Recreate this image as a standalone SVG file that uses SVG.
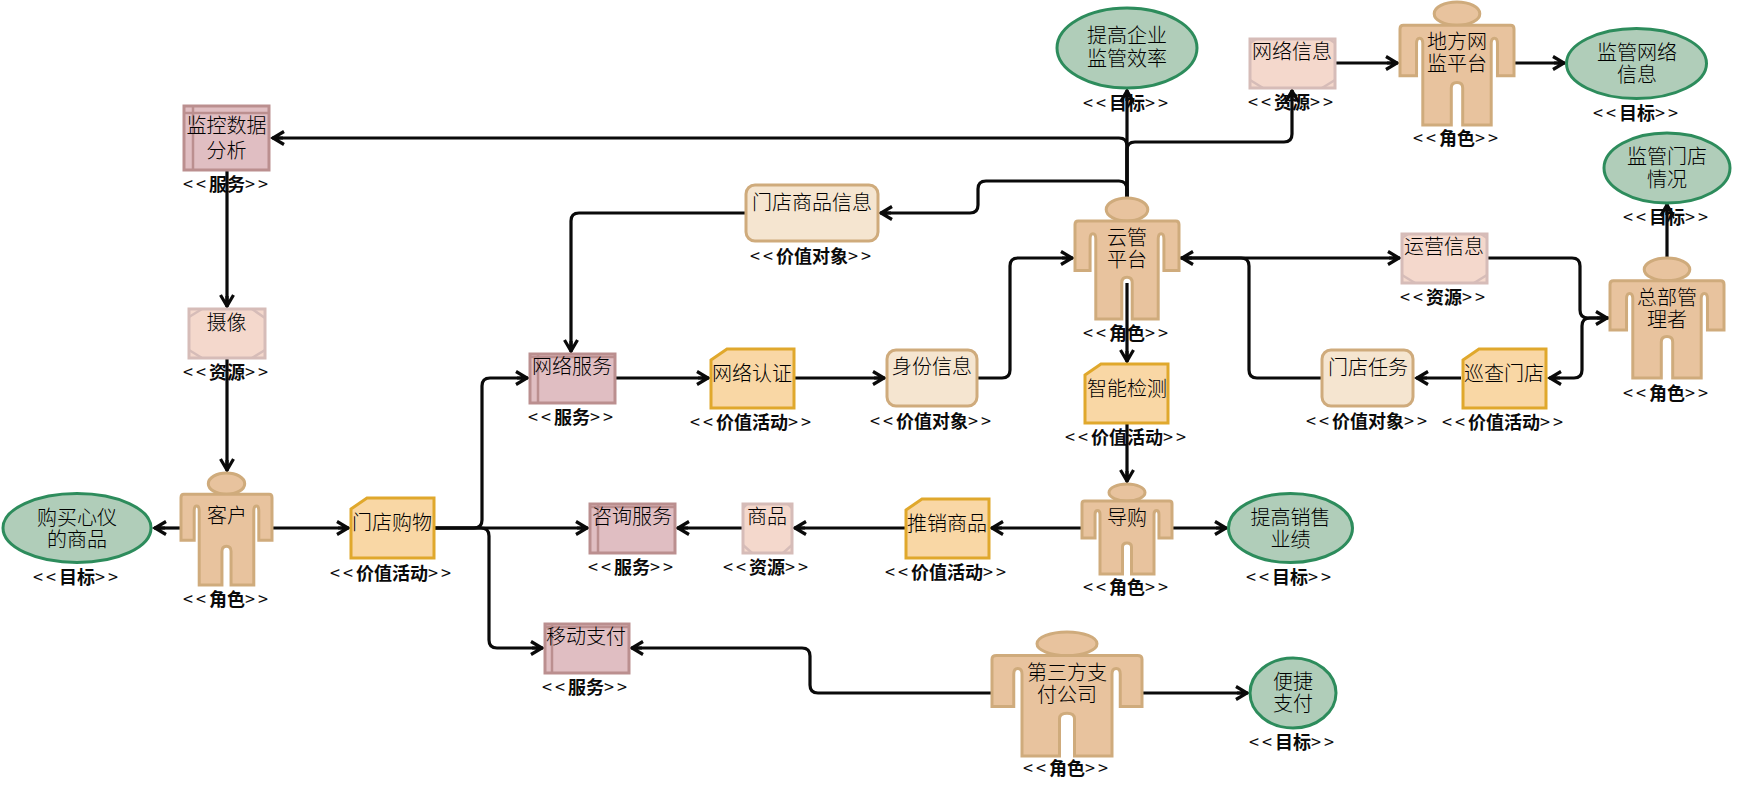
<svg xmlns="http://www.w3.org/2000/svg" width="1746" height="795" viewBox="0 0 1746 795">
<style>
text{font-family:"Noto Sans CJK SC","Noto Sans",sans-serif;text-anchor:middle;dominant-baseline:central;transform:translateY(-1px)}
.t{font-size:20px;fill:#000;font-weight:300}
.l{font-size:18px;font-weight:700;fill:#0a0a0a}
.l tspan{font-weight:400;letter-spacing:3px}
.c path{fill:none;stroke:#0a0a0a;stroke-width:3.200;stroke-linejoin:round;marker-end:url(#a)}
.g{fill:#b0cdb9;stroke:#2d8c5c;stroke-width:3}
.v{fill:#f5e5d0;stroke:#cfab7c;stroke-width:3}
.f{fill:#f9d7a5;stroke:#e0a82c;stroke-width:3}
.s{fill:#e0bec2;stroke:#bb8f8f;stroke-width:3}
.sl{fill:none;stroke:#bb8f8f;stroke-width:2.500}
.r{fill:#f4d8cc;stroke:#d6bcb8;stroke-width:3}
.rl{fill:none;stroke:#d6bcb8;stroke-width:2.500}
.p{fill:#e8c39e;stroke:#cfab7c;stroke-width:3}
#role *{vector-effect:non-scaling-stroke}
</style>
<defs>
<marker id="a" markerUnits="userSpaceOnUse" markerWidth="18" markerHeight="18" refX="15" refY="9" orient="auto" overflow="visible"><path d="M3,2.500L14,9L3,15.500M14,9H4" fill="none" stroke="#0a0a0a" stroke-width="3.200"/></marker>
<g id="role"><ellipse cx="50" cy="9.500" rx="20" ry="9.500"/><path d="M0,60V22Q0,19 3,19H97Q100,19 100,22V60H85.500V34Q85.500,29.500 82.800,29.500Q80,29.500 80,34V100H55V70Q55,65.500 50,65.500Q45,65.500 45,70V100H20V34Q20,29.500 17.200,29.500Q14.500,29.500 14.500,34V60Z"/></g>
</defs>
<rect width="1746" height="795" fill="#fff"/>
<g class="c" id="connectors">
<path d="M1127,197V90"/>
<path d="M1127,197V150Q1127,142 1135,142H1284Q1292,142 1292,134V90"/>
<path d="M1127,197V146Q1127,138 1119,138H272"/>
<path d="M1127,197V190Q1127,181 1119,181H986Q978,181 978,189V205Q978,213 970,213H880"/>
<path d="M746,213H579Q571,213 571,221V352"/>
<path d="M227,171V307"/>
<path d="M227,358V471"/>
<path d="M180,528H154"/>
<path d="M273,528H349"/>
<path d="M434,528H474Q482,528 482,520V386Q482,378 490,378H528"/>
<path d="M434,528H588"/>
<path d="M434,528H481Q489,528 489,536V640Q489,648 497,648H543"/>
<path d="M615,378H709"/>
<path d="M794,378H885"/>
<path d="M978,378H1002Q1010,378 1010,370V266Q1010,258 1018,258H1073"/>
<path d="M1180,258H1400"/>
<path d="M1322,378H1257Q1249,378 1249,370V266Q1249,258 1241,258H1181"/>
<path d="M1487,258H1572Q1580,258 1580,266V310Q1580,318 1588,318H1608"/>
<path d="M1609,318H1590Q1582,318 1582,326V370Q1582,378 1574,378H1549"/>
<path d="M1461,378H1416"/>
<path d="M1667,257V204"/>
<path d="M1127,283V362"/>
<path d="M1127,424V482"/>
<path d="M1081,528H991"/>
<path d="M905,528H794"/>
<path d="M742,528H677"/>
<path d="M1173,528H1227"/>
<path d="M991,693H818Q810,693 810,685V656Q810,648 802,648H631"/>
<path d="M1143,693H1248"/>
<path d="M1335,63H1398"/>
<path d="M1515,63H1565"/>
</g>
<g id="goal1"><ellipse class="g" cx="77" cy="528" rx="74" ry="34.500"/><text class="t" x="77" y="517">购买心仪</text><text class="t" x="77" y="539">的商品</text><text class="l" x="77" y="577"><tspan>&lt;&lt;</tspan>目标<tspan>&gt;&gt;</tspan></text></g>
<g id="role-customer"><use class="p" href="#role" transform="translate(181,473) scale(.91,1.12)"/><text class="t" x="227" y="515">客户</text><text class="l" x="227" y="599"><tspan>&lt;&lt;</tspan>角色<tspan>&gt;&gt;</tspan></text></g>
<g id="act-store"><path class="f" d="M351,509L367,498H434V558H351Z"/><text class="t" x="392" y="522">门店购物</text><text class="l" x="392" y="573"><tspan>&lt;&lt;</tspan>价值活动<tspan>&gt;&gt;</tspan></text></g>
<g id="svc-monitor"><rect class="s" x="184" y="106" width="85" height="64"/><path class="sl" d="M193,106V170M184,113H269"/><text class="t" x="226.500" y="125">监控数据</text><text class="t" x="226.500" y="150">分析</text><text class="l" x="227" y="184"><tspan>&lt;&lt;</tspan>服务<tspan>&gt;&gt;</tspan></text></g>
<g id="res-camera"><rect class="r" x="189" y="309" width="76" height="49"/><path class="rl" d="M189,317L202,309M252,309L265,318M189,350L202,358M252,358L265,350"/><text class="t" x="226.500" y="322">摄像</text><text class="l" x="227" y="372"><tspan>&lt;&lt;</tspan>资源<tspan>&gt;&gt;</tspan></text></g>
<g id="goal-eff"><ellipse class="g" cx="1127" cy="48" rx="70" ry="40"/><text class="t" x="1127" y="35">提高企业</text><text class="t" x="1127" y="58">监管效率</text><text class="l" x="1127" y="103"><tspan>&lt;&lt;</tspan>目标<tspan>&gt;&gt;</tspan></text></g>
<g id="res-net"><rect class="r" x="1250" y="39" width="85" height="49"/><path class="rl" d="M1250,80L1263,88M1322,88L1335,80M1250,43L1256,39M1329,39L1335,43"/><text class="t" x="1292" y="51">网络信息</text><text class="l" x="1292" y="102"><tspan>&lt;&lt;</tspan>资源<tspan>&gt;&gt;</tspan></text></g>
<g id="role-local"><use class="p" href="#role" transform="translate(1400,2) scale(1.14,1.23)"/><text class="t" x="1457" y="41">地方网</text><text class="t" x="1457" y="63">监平台</text><text class="l" x="1457" y="138"><tspan>&lt;&lt;</tspan>角色<tspan>&gt;&gt;</tspan></text></g>
<g id="goal-net"><ellipse class="g" cx="1636.500" cy="63.500" rx="70" ry="35"/><text class="t" x="1637" y="52">监管网络</text><text class="t" x="1637" y="74">信息</text><text class="l" x="1637" y="113"><tspan>&lt;&lt;</tspan>目标<tspan>&gt;&gt;</tspan></text></g>
<g id="goal-store"><ellipse class="g" cx="1667" cy="168" rx="63" ry="35"/><text class="t" x="1667" y="156">监管门店</text><text class="t" x="1667" y="179">情况</text><text class="l" x="1667" y="217"><tspan>&lt;&lt;</tspan>目标<tspan>&gt;&gt;</tspan></text></g>
<g id="val-goods"><rect class="v" x="746" y="185" width="132" height="56" rx="9"/><text class="t" x="812" y="202">门店商品信息</text><text class="l" x="812" y="256"><tspan>&lt;&lt;</tspan>价值对象<tspan>&gt;&gt;</tspan></text></g>
<g id="role-cloud"><use class="p" href="#role" transform="translate(1075,198) scale(1.04,1.21)"/><text class="t" x="1127" y="237">云管</text><text class="t" x="1127" y="259">平台</text><text class="l" x="1127" y="333"><tspan>&lt;&lt;</tspan>角色<tspan>&gt;&gt;</tspan></text></g>
<g id="res-ops"><rect class="r" x="1402" y="234" width="85" height="49"/><path class="rl" d="M1402,275L1415,283M1474,283L1487,275M1402,238L1408,234M1481,234L1487,238"/><text class="t" x="1444" y="246">运营信息</text><text class="l" x="1444" y="297"><tspan>&lt;&lt;</tspan>资源<tspan>&gt;&gt;</tspan></text></g>
<g id="role-hq"><use class="p" href="#role" transform="translate(1610,258) scale(1.14,1.2)"/><text class="t" x="1667" y="297">总部管</text><text class="t" x="1667" y="319">理者</text><text class="l" x="1667" y="393"><tspan>&lt;&lt;</tspan>角色<tspan>&gt;&gt;</tspan></text></g>
<g id="act-patrol"><path class="f" d="M1463,360L1479,349H1546V408H1463Z"/><text class="t" x="1504" y="373">巡查门店</text><text class="l" x="1504" y="422"><tspan>&lt;&lt;</tspan>价值活动<tspan>&gt;&gt;</tspan></text></g>
<g id="val-task"><rect class="v" x="1322" y="350" width="91" height="56" rx="9"/><text class="t" x="1368" y="367">门店任务</text><text class="l" x="1368" y="421"><tspan>&lt;&lt;</tspan>价值对象<tspan>&gt;&gt;</tspan></text></g>
<g id="act-detect"><path class="f" d="M1085,375L1101,364H1168V423H1085Z"/><text class="t" x="1127" y="388">智能检测</text><text class="l" x="1127" y="437"><tspan>&lt;&lt;</tspan>价值活动<tspan>&gt;&gt;</tspan></text></g>
<g id="role-guide"><use class="p" href="#role" transform="translate(1082,484) scale(.9,.9)"/><text class="t" x="1127" y="517">导购</text><text class="l" x="1127" y="587"><tspan>&lt;&lt;</tspan>角色<tspan>&gt;&gt;</tspan></text></g>
<g id="goal-sales"><ellipse class="g" cx="1290.500" cy="528" rx="62" ry="34.500"/><text class="t" x="1290.500" y="517">提高销售</text><text class="t" x="1290.500" y="539">业绩</text><text class="l" x="1290" y="577"><tspan>&lt;&lt;</tspan>目标<tspan>&gt;&gt;</tspan></text></g>
<g id="svc-net"><rect class="s" x="530" y="354" width="85" height="49"/><path class="sl" d="M538,354V403M530,357H615"/><text class="t" x="572" y="366">网络服务</text><text class="l" x="572" y="417"><tspan>&lt;&lt;</tspan>服务<tspan>&gt;&gt;</tspan></text></g>
<g id="act-auth"><path class="f" d="M711,360L727,349H794V408H711Z"/><text class="t" x="752" y="373">网络认证</text><text class="l" x="752" y="422"><tspan>&lt;&lt;</tspan>价值活动<tspan>&gt;&gt;</tspan></text></g>
<g id="val-id"><rect class="v" x="887" y="350" width="90" height="56" rx="9"/><text class="t" x="932" y="366">身份信息</text><text class="l" x="932" y="421"><tspan>&lt;&lt;</tspan>价值对象<tspan>&gt;&gt;</tspan></text></g>
<g id="svc-consult"><rect class="s" x="590" y="504" width="85" height="49"/><path class="sl" d="M598,504V553M590,507H675"/><text class="t" x="632" y="516">咨询服务</text><text class="l" x="632" y="567"><tspan>&lt;&lt;</tspan>服务<tspan>&gt;&gt;</tspan></text></g>
<g id="res-goods"><rect class="r" x="743" y="504" width="49" height="49"/><path class="rl" d="M743,545L752,553M783,553L792,545M743,508L747,504M788,504L792,508"/><text class="t" x="767" y="516">商品</text><text class="l" x="767" y="567"><tspan>&lt;&lt;</tspan>资源<tspan>&gt;&gt;</tspan></text></g>
<g id="act-promo"><path class="f" d="M906,510L922,499H989V558H906Z"/><text class="t" x="947" y="523">推销商品</text><text class="l" x="947" y="572"><tspan>&lt;&lt;</tspan>价值活动<tspan>&gt;&gt;</tspan></text></g>
<g id="svc-pay"><rect class="s" x="545" y="624" width="84" height="49"/><path class="sl" d="M552,624V673M545,627H629"/><text class="t" x="586" y="636">移动支付</text><text class="l" x="586" y="687"><tspan>&lt;&lt;</tspan>服务<tspan>&gt;&gt;</tspan></text></g>
<g id="role-third"><use class="p" href="#role" transform="translate(992,632) scale(1.5,1.24)"/><text class="t" x="1067" y="672">第三方支</text><text class="t" x="1067" y="694">付公司</text><text class="l" x="1067" y="768"><tspan>&lt;&lt;</tspan>角色<tspan>&gt;&gt;</tspan></text></g>
<g id="goal-pay"><ellipse class="g" cx="1293" cy="693" rx="43" ry="35"/><text class="t" x="1293" y="681">便捷</text><text class="t" x="1293" y="703">支付</text><text class="l" x="1293" y="742"><tspan>&lt;&lt;</tspan>目标<tspan>&gt;&gt;</tspan></text></g>
</svg>
